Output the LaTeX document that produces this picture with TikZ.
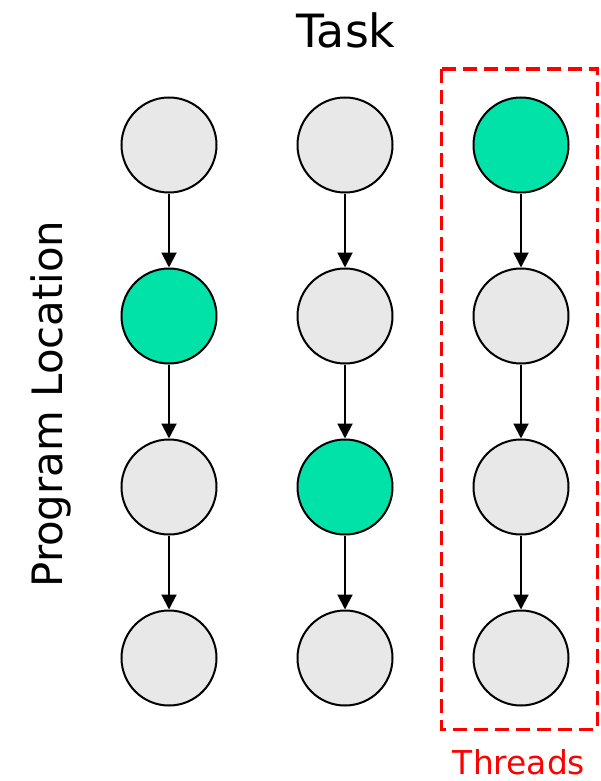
\documentclass[tikz,border=0pt]{standalone}
\usepackage{fontspec}
\setmainfont{DejaVu Sans}
\usetikzlibrary{arrows.meta}
\definecolor{xanh}{RGB}{0,226,168}
\definecolor{xam}{RGB}{232,232,232}
\tikzset{every picture/.style={line width=2bp}}
\tikzset{
	loc/.style={circle,draw,fill=xam,minimum size=95bp,inner sep=0pt},
	hit/.style={loc,fill=xanh}
}
\begin{document}
\begin{tikzpicture}[>={Triangle[length=15bp,width=15bp]},x=1bp,y=-1bp]
	\useasboundingbox (0,0) rectangle (601,781);
	%Task 1
	\node[loc] (a1) at (169,145) {};
	\node[hit] (a2) at (169,316) {};
	\node[loc] (a3) at (169,487) {};
	\node[loc] (a4) at (169,658) {};
	%Task 2
	\node[loc] (b1) at (345,145) {};
	\node[loc] (b2) at (345,316) {};
	\node[hit] (b3) at (345,487) {};
	\node[loc] (b4) at (345,658) {};
	%Task 3
	\node[hit] (c1) at (521,145) {};
	\node[loc] (c2) at (521,316) {};
	\node[loc] (c3) at (521,487) {};
	\node[loc] (c4) at (521,658) {};
	%Mui ten
	\draw [->] (a1)--(a2);
	\draw [->] (a2)--(a3);
	\draw [->] (a3)--(a4);
	\draw [->] (b1)--(b2);
	\draw [->] (b2)--(b3);
	\draw [->] (b3)--(b4);
	\draw [->] (c1)--(c2);
	\draw [->] (c2)--(c3);
	\draw [->] (c3)--(c4);
	%Khung threads
	\draw [red,line width=3bp,dash pattern=on 14bp off 7bp] (441,69) rectangle (597,729);
	\node[red,anchor=base] (threads) at (519,774) {\fontsize{33}{33}\selectfont Threads};
	%Nhan
	\node[anchor=base] (task) at (346,48) {\fontsize{46}{46}\selectfont Task};
	\node[anchor=base,rotate=90] (prog) at (62,404) {\fontsize{42}{42}\selectfont Program Location};
\end{tikzpicture}
\end{document}
